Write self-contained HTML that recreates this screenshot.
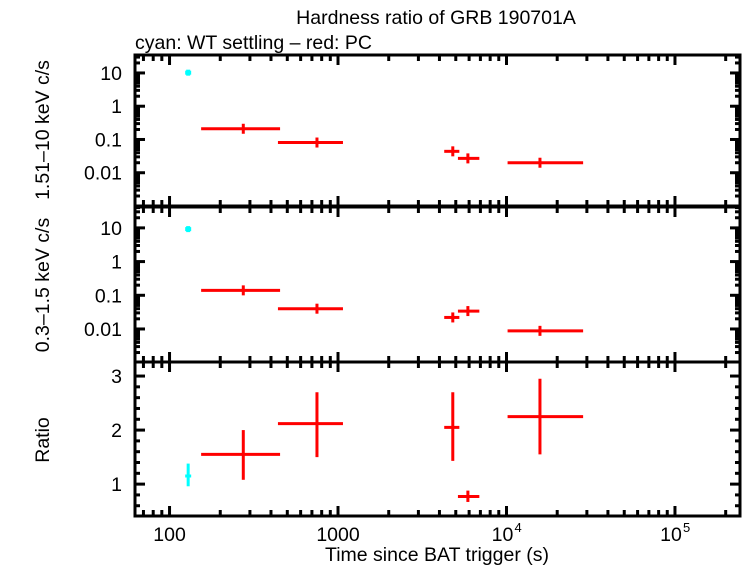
<!DOCTYPE html>
<html><head><meta charset="utf-8"><style>
body{margin:0;background:#fff}
svg{display:block}
text{font-family:"Liberation Sans",sans-serif;fill:#000}
</style></head><body>
<svg id="c" width="742" height="566"></svg>
<script>
const tStart=[154,440,4270,5150,10150];
const tStop=[453,1070,5250,6900,28500];
const tMid=[274,750,4800,5900,15800];
const hard=[0.21,0.081,0.044,0.027,0.02];
const soft=[0.14,0.040,0.022,0.034,0.0088];
const ratio=[1.55,2.12,2.05,0.77,2.25];
const ratioLo=[1.08,1.5,1.43,0.67,1.55];
const ratioHi=[2.0,2.7,2.7,0.88,2.95];
const wtTime=[129];
const wtHard=[10.2];
const wtSoft=[9.2];
const wtRatio=[1.15];
const wtRatioLo=[0.96];
const wtRatioHi=[1.38];
const xTickLabels=["100","1000","10","10"];

const NS="http://www.w3.org/2000/svg";
const svg=document.getElementById('c');
function el(tag,attrs,parent){const e=document.createElementNS(NS,tag);for(const k in attrs)e.setAttribute(k,attrs[k]);(parent||svg).appendChild(e);return e;}
const X0=135,X1=740,LX0=1.795,LX1=5.386;
const xs=t=>X0+(Math.log10(t)-LX0)/(LX1-LX0)*(X1-X0);
const panels=[
 {y0:55,y1:206,lo:-3,hi:1.54,log:true},
 {y0:207,y1:362,lo:-2.98,hi:1.62,log:true},
 {y0:362,y1:516,lo:0.41,hi:3.26,log:false}];
function ys(p,v){const u=p.log?Math.log10(v):v;return p.y1-(u-p.lo)/(p.hi-p.lo)*(p.y1-p.y0);}
function line(x1,y1,x2,y2,c,w,name){const l=el('line',{x1,y1,x2,y2,stroke:c,'stroke-width':w});

return l;}
function txt(x,y,s,anchor,size,name,rot){const t=el('text',{x,y,'text-anchor':anchor,'font-size':size});t.textContent=s;if(rot)t.setAttribute('transform',rot);

return t;}

const FS=19.5;
txt(436,24,"Hardness ratio of GRB 190701A","middle",FS,"chart-title");
txt(135,49,"cyan: WT settling – red: PC","start",FS,"chart-subtitle");

panels.forEach((p,i)=>{
 const r=el('rect',{x:X0,y:p.y0,width:X1-X0,height:p.y1-p.y0,fill:'none',stroke:'#000','stroke-width':3});
 
 
 for(let d=1;d<=5;d++)for(let m=1;m<10;m++){const t=m*Math.pow(10,d);const lt=Math.log10(t);if(lt<LX0||lt>LX1)continue;
  const x=xs(t),len=m===1?10:6;
  line(x,p.y1,x,p.y1-len,'#000',3,'x-tick');line(x,p.y0,x,p.y0+len,'#000',3,'x-tick');}
 if(p.log){
  for(let d=-3;d<=1;d++)for(let m=1;m<10;m++){const v=m*Math.pow(10,d);const u=Math.log10(v);if(u<p.lo||u>p.hi)continue;
   const y=ys(p,v),len=m===1?10:5;line(X0,y,X0+len,y,'#000',3,'y-tick');line(X1,y,X1-len,y,'#000',3,'y-tick');}
  [[10,"10"],[1,"1"],[0.1,"0.1"],[0.01,"0.01"]].forEach(([v,s])=>txt(122,ys(p,v)+7,s,'end',FS,'y-tick-label'));
 } else {
  for(let v=0.5;v<=3.2;v+=0.1){const y=ys(p,v);const major=Math.abs(v-Math.round(v))<0.01;const len=major?10:5;
   if(Math.round(v*10)%2!==0&&!major)continue;
   line(X0,y,X0+len,y,'#000',3,'y-tick');line(X1,y,X1-len,y,'#000',3,'y-tick');}
  [1,2,3].forEach(v=>txt(122,ys(p,v)+7,String(v),'end',FS,'y-tick-label'));
 }
});
txt(xs(100),541,xTickLabels[0],'middle',FS,'x-tick-label');
txt(xs(1000),541,xTickLabels[1],'middle',FS,'x-tick-label');
txt(xs(1e4)-4,541,xTickLabels[2],'middle',FS,'x-tick-label');txt(xs(1e4)+8,532,"4",'start',13,'x-tick-exponent');
txt(xs(1e5)-4,541,xTickLabels[3],'middle',FS,'x-tick-label');txt(xs(1e5)+8,532,"5",'start',13,'x-tick-exponent');
txt(437,561,"Time since BAT trigger (s)",'middle',FS,'x-axis-title');
txt(49,130,"1.51–10 keV c/s",'middle',FS,'y-axis-title-hard','rotate(-90 49 130)');
txt(49,285,"0.3–1.5 keV c/s",'middle',FS,'y-axis-title-soft','rotate(-90 49 285)');
txt(49,440,"Ratio",'middle',FS,'y-axis-title-ratio','rotate(-90 49 440)');

const red='#ff0000',cyan='#00ffff';
for(let i=0;i<tMid.length;i++){
 [[0,hard[i]],[1,soft[i]]].forEach(([pi,v])=>{const p=panels[pi];const y=ys(p,v);
  line(xs(tStart[i]),y,xs(tStop[i]),y,red,3,'pc-point-xerr');
  line(xs(tMid[i]),y-5,xs(tMid[i]),y+5,red,3,'pc-point-yerr');});
 const p=panels[2];
 line(xs(tStart[i]),ys(p,ratio[i]),xs(tStop[i]),ys(p,ratio[i]),red,3,'pc-ratio-xerr');
 line(xs(tMid[i]),ys(p,ratioLo[i]),xs(tMid[i]),ys(p,ratioHi[i]),red,3,'pc-ratio-yerr');
}
for(let i=0;i<wtTime.length;i++){
 const x=xs(wtTime[i]);
 [[0,wtHard[i]],[1,wtSoft[i]]].forEach(([pi,v])=>{const y=ys(panels[pi],v);
  line(x-3,y,x+3,y,cyan,4,'wt-point-xerr');line(x,y-3,x,y+3,cyan,4,'wt-point-yerr');});
 const p=panels[2];
 line(x-3,ys(p,wtRatio[i]),x+3,ys(p,wtRatio[i]),cyan,3,'wt-ratio-xerr');
 line(x,ys(p,wtRatioLo[i]),x,ys(p,wtRatioHi[i]),cyan,3,'wt-ratio-yerr');
}
</script>
</body></html>
